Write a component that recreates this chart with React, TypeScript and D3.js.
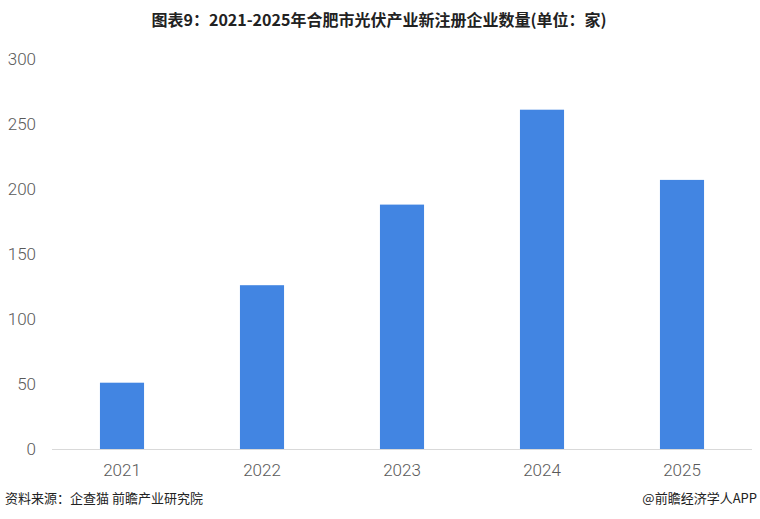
import React from "react";
import * as d3 from "d3";

const years = ["2021", "2022", "2023", "2024", "2025"];
const counts = [51, 126, 188, 261, 207];
const yTicks = [0, 50, 100, 150, 200, 250, 300];

const W = 760;
const H = 519;
const margin = { left: 52, right: 8, top: 59, bottom: 71 };

export default function App() {
  const x = d3
    .scaleBand<string>()
    .domain(years)
    .range([margin.left, W - margin.right])
    .paddingInner(0.685)
    .paddingOuter(0.3425);
  const y = d3.scaleLinear().domain([0, 300]).range([H - margin.bottom + 1, margin.top]);

  return (
    <svg
      width={W}
      height={H}
      style={{ position: "absolute", left: 0, top: 0, background: "#fff" }}
    >
      <text
        x={379}
        y={26}
        textAnchor="middle"
        fontFamily="'Noto Sans CJK SC', sans-serif"
        fontWeight="bold"
        fontSize={16}
        fill="#222"
      >
        图表9：2021-2025年合肥市光伏产业新注册企业数量(单位：家)
      </text>
      {yTicks.map((t) => (
        <text
          key={t}
          x={36}
          y={y(t)}
          dy="0.35em"
          textAnchor="end"
          fontFamily="Roboto, sans-serif"
          fontWeight={300}
          fontSize={17}
          fill="#595959"
        >
          {t}
        </text>
      ))}
      {years.map((yr, i) => (
        <rect
          key={yr}
          x={x(yr)}
          y={y(counts[i])}
          width={x.bandwidth()}
          height={y(0) - y(counts[i])}
          fill="#4285e2"
        />
      ))}
      <line
        x1={margin.left}
        x2={W - margin.right}
        y1={y(0) + 0.5}
        y2={y(0) + 0.5}
        stroke="#d9d9d9"
        strokeWidth={1}
      />
      {years.map((yr) => (
        <text
          key={yr}
          x={(x(yr) as number) + x.bandwidth() / 2}
          y={476}
          textAnchor="middle"
          fontFamily="Roboto, sans-serif"
          fontWeight={300}
          fontSize={17}
          fill="#595959"
        >
          {yr}
        </text>
      ))}
      <text
        x={5}
        y={503}
        fontFamily="'Noto Sans CJK SC', sans-serif"
        fontSize={13}
        fill="#222"
      >
        资料来源：企查猫 前瞻产业研究院
      </text>
      <text
        x={757}
        y={503}
        textAnchor="end"
        fontFamily="'Noto Sans CJK SC', sans-serif"
        fontSize={13}
        fill="#222"
      >
        @前瞻经济学人APP
      </text>
    </svg>
  );
}
